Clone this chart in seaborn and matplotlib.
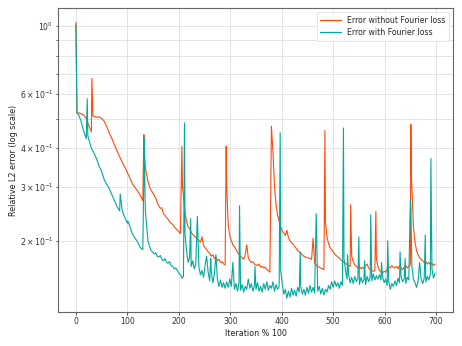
import matplotlib
matplotlib.use("Agg")
import matplotlib.pyplot as plt
import pandas as pd
import seaborn as sns

# ---- data ----
early_x = list(range(0, 140, 5))          # 0..135
late_x = list(range(140, 700, 3))         # 140..698

orange_early = [
    1.03, 0.522, 0.518, 0.514, 0.500, 0.474, 0.452, 0.508, 0.505, 0.506,
    0.500, 0.490, 0.470, 0.447, 0.430, 0.410, 0.392, 0.376, 0.360, 0.347,
    0.333, 0.320, 0.306, 0.298, 0.290, 0.281, 0.270, 0.345,
]
orange_late = [
    0.312, 0.300, 0.292, 0.287, 0.281, 0.276, 0.266, 0.260, 0.255, 0.256,
    0.245, 0.242, 0.238, 0.235, 0.231, 0.228, 0.226, 0.222, 0.219, 0.217,
    0.214, 0.211, 0.209, 0.280, 0.245, 0.232, 0.222, 0.219, 0.213, 0.210,
    0.207, 0.205, 0.203, 0.200, 0.198, 0.206, 0.193, 0.190, 0.187, 0.184,
    0.182, 0.178, 0.180, 0.175, 0.177, 0.172, 0.174, 0.170, 0.171, 0.168,
    0.167, 0.300, 0.225, 0.208, 0.200, 0.194, 0.191, 0.188, 0.183, 0.181,
    0.178, 0.176, 0.174, 0.180, 0.194, 0.176, 0.172, 0.170, 0.171, 0.168,
    0.167, 0.166, 0.168, 0.164, 0.165, 0.163, 0.164, 0.161, 0.160, 0.158,
    0.158, 0.390, 0.300, 0.262, 0.242, 0.232, 0.222, 0.215, 0.212, 0.208,
    0.216, 0.205, 0.200, 0.197, 0.195, 0.192, 0.189, 0.186, 0.184, 0.182,
    0.180, 0.178, 0.177, 0.176, 0.176, 0.175, 0.174, 0.175, 0.169, 0.167,
    0.165, 0.164, 0.163, 0.162, 0.161, 0.230, 0.205, 0.196, 0.190, 0.187,
    0.184, 0.181, 0.179, 0.177, 0.176, 0.173, 0.172, 0.170, 0.169, 0.167,
    0.166, 0.165, 0.178, 0.171, 0.167, 0.165, 0.163, 0.165, 0.162, 0.164,
    0.162, 0.166, 0.168, 0.163, 0.161, 0.160, 0.159, 0.160, 0.175, 0.165,
    0.160, 0.158, 0.157, 0.159, 0.158, 0.162, 0.165, 0.163, 0.166, 0.164,
    0.163, 0.165, 0.162, 0.166, 0.163, 0.161, 0.164, 0.166, 0.163, 0.165,
    0.167, 0.300, 0.222, 0.198, 0.186, 0.180, 0.176, 0.174, 0.172, 0.170,
    0.171, 0.168, 0.170, 0.167, 0.169, 0.166, 0.168,
]

teal_early = [
    1.01, 0.515, 0.490, 0.455, 0.430, 0.428, 0.400, 0.386, 0.370, 0.350,
    0.336, 0.316, 0.305, 0.295, 0.282, 0.270, 0.258, 0.250, 0.250, 0.238,
    0.228, 0.222, 0.210, 0.204, 0.198, 0.190, 0.187, 0.250,
]
teal_late = [
    0.200, 0.192, 0.186, 0.184, 0.181, 0.183, 0.178, 0.177, 0.179, 0.174,
    0.172, 0.175, 0.170, 0.169, 0.171, 0.166, 0.165, 0.162, 0.163, 0.160,
    0.157, 0.155, 0.151, 0.153, 0.210, 0.186, 0.170, 0.176, 0.165, 0.172,
    0.162, 0.168, 0.158, 0.164, 0.155, 0.160, 0.152, 0.166, 0.150, 0.158,
    0.148, 0.160, 0.146, 0.155, 0.147, 0.150, 0.142, 0.149, 0.141, 0.146,
    0.140, 0.147, 0.141, 0.150, 0.142, 0.148, 0.139, 0.145, 0.137, 0.146,
    0.138, 0.144, 0.136, 0.142, 0.139, 0.150, 0.140, 0.145, 0.137, 0.143,
    0.139, 0.146, 0.137, 0.142, 0.136, 0.145, 0.139, 0.147, 0.138, 0.143,
    0.140, 0.147, 0.137, 0.144, 0.139, 0.142, 0.160, 0.145, 0.134, 0.139,
    0.130, 0.137, 0.131, 0.140, 0.133, 0.138, 0.132, 0.141, 0.136, 0.142,
    0.134, 0.139, 0.133, 0.141, 0.135, 0.143, 0.136, 0.141, 0.135, 0.144,
    0.137, 0.142, 0.134, 0.140, 0.133, 0.139, 0.136, 0.143, 0.139, 0.147,
    0.141, 0.148, 0.142, 0.146, 0.140, 0.147, 0.143, 0.175, 0.160, 0.150,
    0.155, 0.146, 0.152, 0.145, 0.153, 0.147, 0.151, 0.144, 0.152, 0.146,
    0.150, 0.144, 0.153, 0.147, 0.152, 0.148, 0.156, 0.149, 0.154, 0.150,
    0.155, 0.149, 0.153, 0.146, 0.150, 0.143, 0.147, 0.139, 0.145, 0.142,
    0.148, 0.143, 0.151, 0.146, 0.153, 0.147, 0.150, 0.145, 0.152, 0.149,
    0.158, 0.165, 0.150, 0.146, 0.141, 0.147, 0.143, 0.150, 0.145, 0.151,
    0.147, 0.153, 0.149, 0.156, 0.162, 0.151, 0.157,
]

# sharp spikes (iteration, value)
orange_spike_x = [2, 31, 33, 132, 133, 206, 207, 245, 292, 293, 380, 381,
                  461, 484, 534, 583, 651, 652]
orange_spike_y = [0.520, 0.675, 0.510, 0.443, 0.380, 0.406, 0.300, 0.206,
                  0.406, 0.300, 0.472, 0.440, 0.204, 0.457, 0.262, 0.249,
                  0.478, 0.330]

teal_spike_x = [1, 2, 22, 23, 86, 101, 133, 134, 211, 223, 236, 254, 262,
                272, 305, 318, 348, 397, 436, 467, 520, 528, 550, 561, 573,
                594, 606, 630, 640, 650, 651, 668, 679, 690]
teal_spike_y = [0.700, 0.520, 0.580, 0.440, 0.284, 0.232, 0.432, 0.300,
                0.484, 0.236, 0.240, 0.178, 0.175, 0.180, 0.170, 0.260,
                0.165, 0.449, 0.184, 0.245, 0.466, 0.180, 0.206, 0.172,
                0.243, 0.170, 0.200, 0.184, 0.175, 0.270, 0.256, 0.170,
                0.209, 0.370]

label_orange = "Error without Fourier loss"
label_teal = "Error with Fourier loss"


def merge(xs_list, ys_list, sx, sy):
    d = {}
    for xs, ys in zip(xs_list, ys_list):
        assert len(xs) == len(ys), (len(xs), len(ys))
        d.update(dict(zip(xs, ys)))
    d.update(dict(zip(sx, sy)))
    keys = sorted(d)
    return keys, [d[k] for k in keys]


ox, oy = merge([early_x, late_x], [orange_early, orange_late],
               orange_spike_x, orange_spike_y)
tx, ty = merge([early_x, late_x], [teal_early, teal_late],
               teal_spike_x, teal_spike_y)

df = pd.concat([
    pd.DataFrame({"Iteration": ox, "Error": oy, "Series": label_orange}),
    pd.DataFrame({"Iteration": tx, "Error": ty, "Series": label_teal}),
], ignore_index=True)

# ---- plot ----
sns.set_theme(style="whitegrid")
plt.rcParams["font.family"] = ["DejaVu Sans"]

fig = plt.figure(figsize=(4.62, 3.46), dpi=100)
ax = fig.add_axes([0.1255, 0.0983, 0.855, 0.8777])

palette = {label_orange: "#ff4a0a", label_teal: "#00a99d"}
sns.lineplot(data=df, x="Iteration", y="Error", hue="Series", palette=palette,
             linewidth=0.8, ax=ax, sort=False, estimator=None)

ax.set_yscale("log")
ax.margins(x=0.05, y=0.05)
ax.set_xticks([0, 100, 200, 300, 400, 500, 600, 700])
ax.set_xlabel("Iteration % 100", fontsize=5.8, color="#222222", labelpad=2)
ax.set_ylabel("Relative L2 error (log scale)", fontsize=5.8, color="#222222", labelpad=1.5)

ax.grid(True, which="both", color="#e4e4e4", linewidth=0.7)
ax.tick_params(axis="both", which="both", labelsize=5.6, colors="#333333",
               length=1.8, width=0.6, pad=2, left=True, bottom=True)
ax.tick_params(axis="y", which="minor", length=1.2)
for s in ax.spines.values():
    s.set_visible(True)
    s.set_color("#666666")
    s.set_linewidth(0.8)

leg = ax.legend(loc="upper right", fontsize=5.6, frameon=True, framealpha=0.9,
                edgecolor="#dddddd", handlelength=2.6, borderpad=0.5,
                labelspacing=0.4, fancybox=True)
leg.get_frame().set_linewidth(0.6)
for line in leg.get_lines():
    line.set_linewidth(0.9)

fig.savefig("out.png", dpi=100)
